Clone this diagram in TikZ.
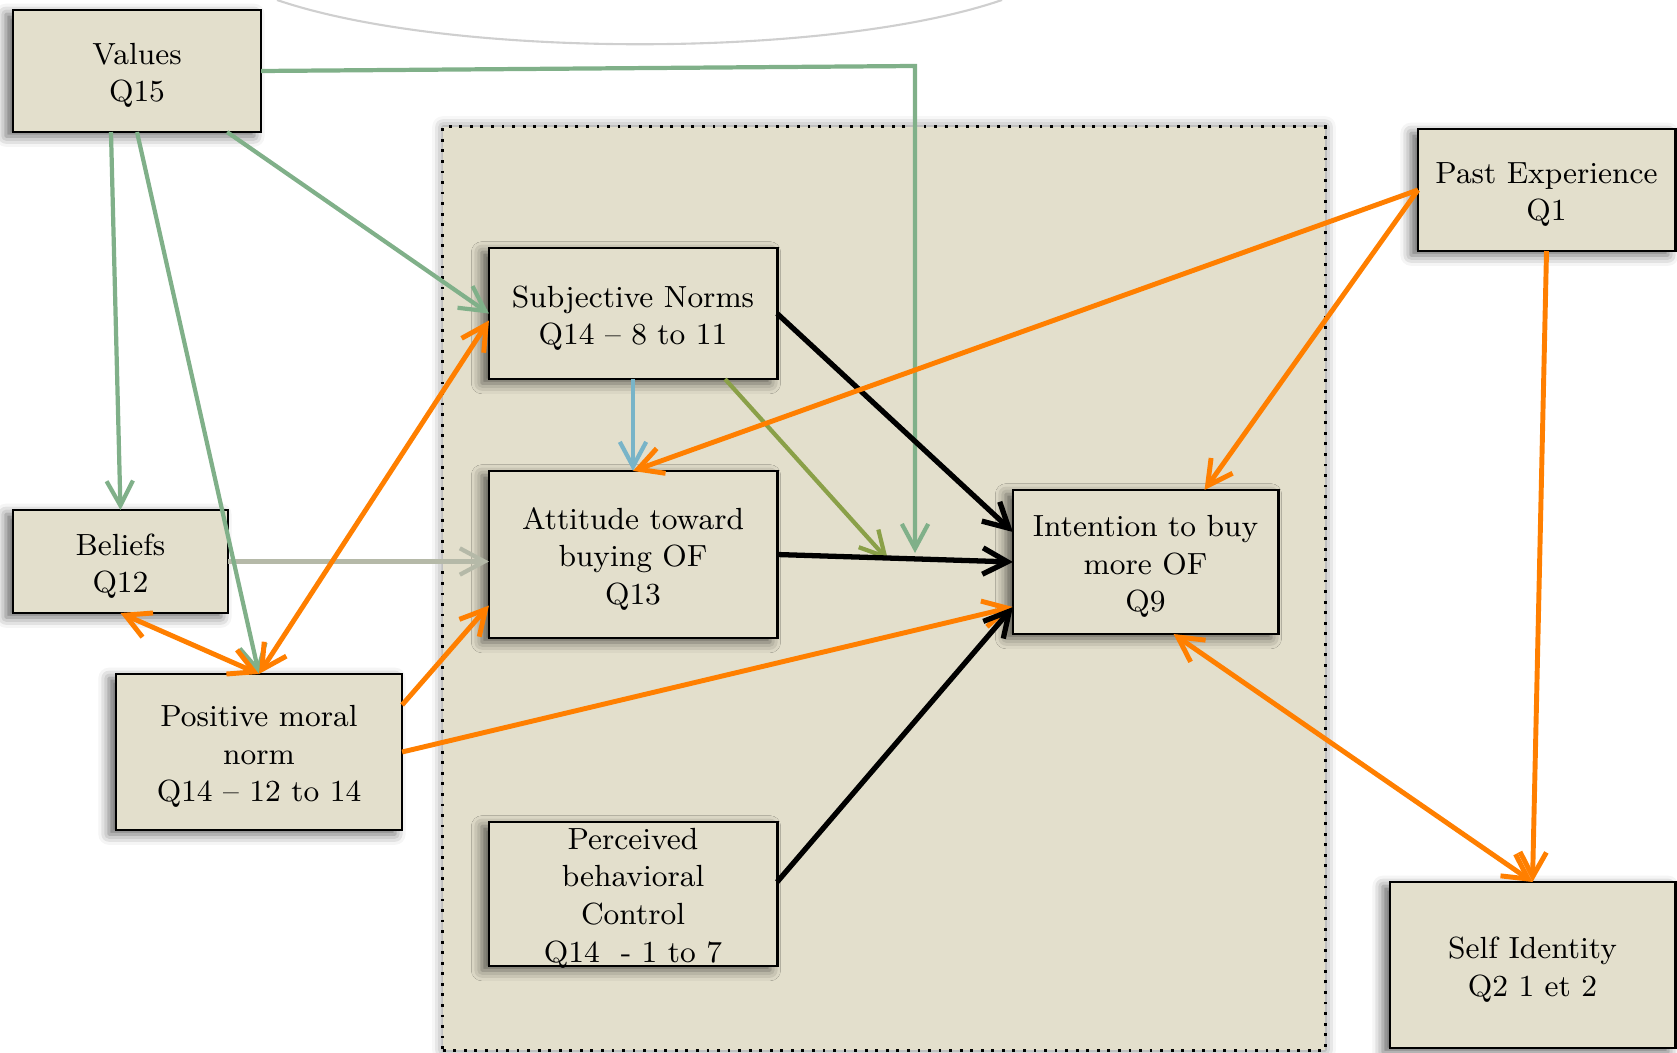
\documentclass[tikz,border=0pt]{standalone}
\usepackage{fontspec}
\usetikzlibrary{arrows.meta,calc,shadows.blur}
\definecolor{boxfill}{HTML}{E3DFCC}
\definecolor{cgreen}{HTML}{80B089}
\definecolor{colive}{HTML}{8AA048}
\definecolor{cblue}{HTML}{78B4C8}
\definecolor{cgrey}{HTML}{B5B9A8}
\definecolor{corange}{HTML}{FF7F00}
\definecolor{carc}{HTML}{CFCFCF}
\begin{document}
\begin{tikzpicture}[x=0.01cm,y=-0.01cm,
  box/.style={draw=black, line width=0.8pt, fill=boxfill, inner sep=0pt, outer sep=0pt,
    blur shadow={shadow xshift=-2pt,shadow yshift=-1.2pt,shadow blur radius=3pt,shadow opacity=60}},
  txt/.style={inner sep=0pt, align=center, font=\fontsize{8.7pt}{10.7pt}\selectfont},
  boxtext/.style={label={[txt,yshift=-0.045cm]center:{#1}}},
  bgrect/.style={draw=black, line width=0.8pt, dash pattern=on 0.8pt off 2.2pt, fill=boxfill, inner sep=0pt, outer sep=0pt,
    blur shadow={shadow xshift=0pt,shadow yshift=0pt,shadow blur radius=3pt,shadow opacity=50}},
  tip/.style={-{Straight Barb[length=7pt,width=7.5pt]}},
  tips/.style={{Straight Barb[length=7pt,width=7.5pt]}-{Straight Barb[length=7pt,width=7.5pt]}},
  garr/.style={tip, draw=cgreen, line width=1.2pt},
  grarr/.style={tip, draw=cgrey, line width=1.2pt},
  barr/.style={tip, draw=cblue, line width=1.2pt},
  olarr/.style={tip, draw=colive, line width=1.2pt},
  karr/.style={tip, draw=black, line width=1.5pt},
  oarr/.style={tip, draw=corange, line width=1.4pt},
  oarrr/.style={tips, draw=corange, line width=1.4pt},
]
\useasboundingbox (0,0) rectangle (1677,1052);

% faint arc at top
\draw[carc, line width=0.6pt] (277,0) .. controls (450,59) and (830,59) .. (1002,0);

% background panel
\node[bgrect, minimum width=8.82cm, minimum height=9.23cm] (bg) at (884,588.5) {};

% boxes
\node[box, minimum width=2.48cm, minimum height=1.22cm, boxtext={Values\\Q15}] (val) at (137,71) {};
\node[box, minimum width=2.15cm, minimum height=1.03cm, boxtext={Beliefs\\Q12}] (bel) at (120.5,561.5) {};
\node[box, minimum width=2.86cm, minimum height=1.56cm, boxtext={Positive moral\\norm\\Q14 -- 12 to 14}] (pmn) at (259,752) {};
\node[box, minimum width=2.88cm, minimum height=1.31cm, boxtext={Subjective Norms\\Q14 -- 8 to 11}] (sn) at (633,313.5) {};
\node[box, minimum width=2.88cm, minimum height=1.67cm, boxtext={Attitude toward\\buying OF\\Q13}] (att) at (633,554.5) {};
\node[box, minimum width=2.88cm, minimum height=1.44cm] (pbc) at (633,894) {};
\node[txt] (pbctxt) at (633,898) {Perceived\\behavioral\\Control\\Q14\ \ - 1 to 7};
\node[box, minimum width=2.65cm, minimum height=1.44cm, boxtext={Intention to buy\\more OF\\Q9}] (int) at (1145.5,562) {};
\node[box, minimum width=2.57cm, minimum height=1.22cm, boxtext={Past Experience\\Q1}] (pe) at (1546.5,190) {};
\node[box, minimum width=2.85cm, minimum height=1.66cm, boxtext={Self Identity\\Q2 1 et 2}] (si) at (1532.5,965) {};

% connectors
\coordinate (vc) at (915,66);
\coordinate (vm) at (915,553);
\coordinate (sm) at (888,560);

\draw[grarr] (bel.east) -- (bel.east -| att.west);
\draw[garr] ([xshift=-0.26cm]val.south) -- (bel.north);
\draw[garr] (val.south) -- (pmn.north);
\draw[garr] ([xshift=0.9cm]val.south) -- (sn.west);
\draw[garr] (val.east) -- (vc) -- (vm);

\draw[oarrr] (bel.south) -- (pmn.north);
\draw[oarrr] (pmn.north) -- ([yshift=-0.07cm]sn.west);
\draw[oarr] ([yshift=0.47cm]pmn.east) -- ([yshift=-0.51cm]att.west);
\draw[oarr] (pmn.east) -- ([yshift=-0.45cm]int.west);

\draw[barr] (sn.south) -- (att.north);
\draw[olarr] ([xshift=0.92cm]sn.south) -- (sm);
\draw[karr] (sn.east) -- ([yshift=0.3cm]int.west);
\draw[karr] (att.east) -- (int.west);
\draw[karr] ([yshift=0.12cm]pbc.east) -- ([yshift=-0.45cm]int.west);

\draw[oarr] (pe.west) -- (att.north);
\draw[oarr] (pe.west) -- ([xshift=0.59cm]int.north);
\draw[oarr] (pe.south) -- (si.north);
\draw[oarrr] ([xshift=0.28cm]int.south) -- (si.north);
\end{tikzpicture}
\end{document}
